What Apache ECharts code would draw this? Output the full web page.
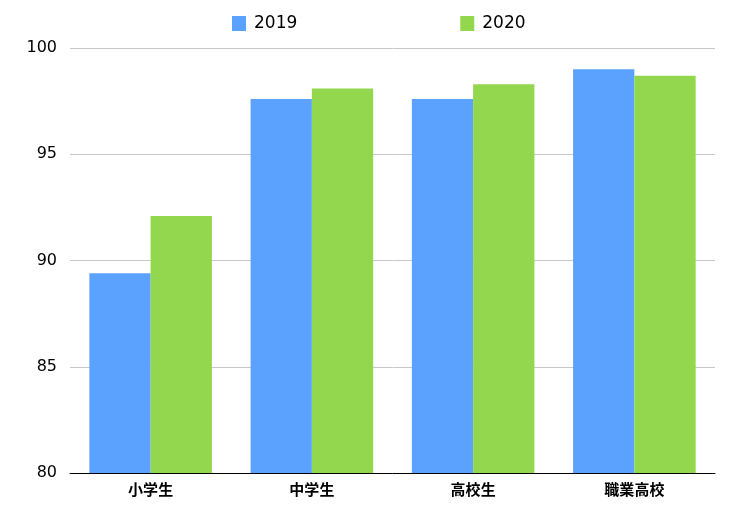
<!DOCTYPE html>
<html>
<head>
<meta charset="utf-8">
<script src="https://cdn.jsdelivr.net/npm/echarts@6/dist/echarts.min.js"></script>
<style>
  html, body { margin: 0; padding: 0; background: #fff; }
  #chart { width: 731px; height: 510px; }
</style>
</head>
<body>
<div id="chart"></div>
<script>
// 学校区分
const categories = ['小学生', '中学生', '高校生', '職業高校'];
const values2019 = [89.4, 97.6, 97.6, 99.0];
const values2020 = [92.1, 98.1, 98.3, 98.7];
const yTicks = [80, 85, 90, 95, 100];

const font = '"Noto Sans CJK JP", "Noto Sans", sans-serif';
const numFont = '"DejaVu Sans", sans-serif';
const chart = echarts.init(document.getElementById('chart'));

chart.setOption({
    backgroundColor: '#fff',
    animation: false,
    legend: {
        top: 10,
        left: 227,
        itemWidth: 14,
        itemHeight: 15,
        itemGap: 163,
        icon: 'rect',
        textStyle: { fontFamily: numFont, fontSize: 17, color: '#000', padding: [0, 0, 0, 3] },
        data: ['2019', '2020']
    },
    grid: {
        left: 70,
        right: 16,
        top: 48,
        bottom: 37
    },
    xAxis: {
        type: 'category',
        data: categories,
        axisTick: { show: false },
        axisLine: { lineStyle: { color: '#000', width: 1 } },
        axisLabel: {
            fontFamily: font,
            fontSize: 15,
            fontWeight: 'bold',
            color: '#000',
            margin: 9
        }
    },
    yAxis: {
        type: 'value',
        min: yTicks[0],
        max: yTicks[yTicks.length - 1],
        interval: 5,
        axisLine: { show: false },
        axisTick: { show: false },
        axisLabel: {
            fontFamily: numFont,
            fontSize: 16,
            color: '#000',
            margin: 13
        },
        splitLine: { lineStyle: { color: '#c8c8c8', width: 1 } }
    },
    series: [
        {
            name: '2019',
            type: 'bar',
            data: values2019,
            barGap: '0%',
            barCategoryGap: '24%',
            itemStyle: { color: '#5ba2ff' }
        },
        {
            name: '2020',
            type: 'bar',
            data: values2020,
            barGap: '0%',
            barCategoryGap: '24%',
            itemStyle: { color: '#92d74d' }
        }
    ]
});
</script>
</body>
</html>
